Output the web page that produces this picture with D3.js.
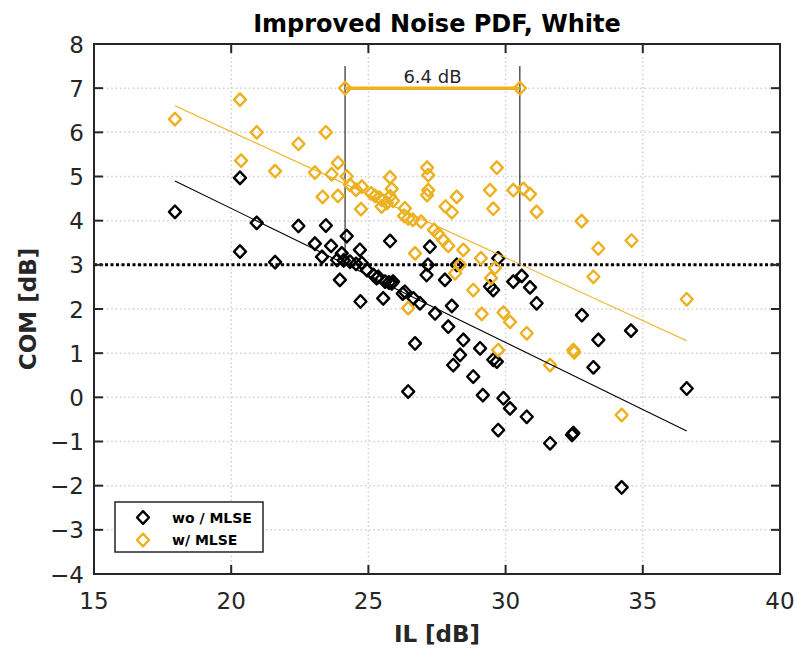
<!DOCTYPE html>
<html><head><meta charset="utf-8">
<script src="https://cdn.jsdelivr.net/npm/d3@7"></script>
<style>body{margin:0;background:#fff}svg{display:block}text{font-family:"DejaVu Sans",sans-serif}</style>
</head><body><svg id="c" width="797" height="650"></svg>
<script>
const xTicks=[15,20,25,30,35,40];
const yTicks=[-4,-3,-2,-1,0,1,2,3,4,5,6,7,8];
const seriesNames=["wo / MLSE","w/ MLSE"];
const ilWo=[17.95,20.32,20.32,20.93,21.60,22.45,23.45,23.05,23.64,23.31,23.86,23.96,24.21,24.03,24.69,24.33,24.76,25.18,25.36,25.61,25.85,24.71,25.54,25.79,26.33,26.64,26.88,27.24,27.17,27.12,27.43,26.70,26.45,27.91,28.04,28.22,27.79,28.46,28.34,28.09,29.07,28.82,29.55,29.68,29.73,29.43,29.55,30.28,30.59,30.89,31.13,29.17,29.92,30.16,29.73,30.77,31.62,32.47,32.42,32.78,33.38,34.57,33.20,36.60,34.23,24.55,24.95,25.30,25.75,25.90,26.25,24.10];
const comWo=[4.20,4.97,3.30,3.95,3.06,3.88,3.89,3.48,3.43,3.18,3.11,2.66,3.65,3.26,3.34,3.07,3.04,2.77,2.73,2.62,2.58,2.17,2.24,3.54,2.39,2.24,2.13,3.41,3.00,2.77,1.90,1.22,0.13,1.60,2.07,3.00,2.66,1.30,0.96,0.73,1.11,0.47,0.85,0.81,3.15,2.51,2.43,2.62,2.75,2.49,2.13,0.05,-0.02,-0.25,-0.74,-0.44,-1.04,-0.81,-0.85,1.86,1.30,1.51,0.68,0.20,-2.04,3.02,2.88,2.70,2.60,2.62,2.35,3.10];
const ilW=[17.95,20.32,20.36,20.93,21.60,22.45,23.05,23.45,23.66,23.33,23.89,23.89,24.21,24.33,24.76,24.73,25.24,25.48,25.79,25.85,25.67,25.48,25.79,26.33,26.30,26.62,26.92,27.14,27.18,27.18,27.14,27.39,27.54,27.73,27.91,27.81,28.22,28.04,26.70,28.46,29.10,28.34,28.16,29.61,29.47,28.82,29.13,29.92,30.16,30.77,29.73,32.47,32.50,31.62,26.45,29.43,29.55,29.68,30.28,30.65,30.89,31.13,32.77,33.38,34.59,33.20,36.60,34.23,25.10,25.40,25.90,24.55,26.45];
const comW=[6.30,6.74,5.36,6.00,5.12,5.74,5.09,6.00,5.05,4.54,5.31,4.56,5.00,4.81,4.77,4.26,4.56,4.47,4.98,4.72,4.40,4.32,4.55,4.28,4.11,4.02,3.98,5.20,5.03,4.69,4.58,3.79,3.70,3.56,3.43,4.32,4.54,4.19,3.26,3.34,3.15,3.00,2.81,2.93,2.70,2.43,1.89,1.92,1.71,1.45,1.07,1.07,1.02,0.73,2.02,4.69,4.27,5.20,4.69,4.72,4.60,4.20,3.99,3.37,3.55,2.73,2.22,-0.40,4.62,4.52,4.45,4.70,4.05];
const fitX=[17.95,36.6];
const fitWo=[4.90,-0.76];
const fitW=[6.60,1.28];
const annX=[24.15,30.52];
const annY=7, annTop=7.5, annBottom=3, annLabel="6.4 dB";
const thresholdY=3;

const W=797,H=650,m={l:94,r:17,t:44,b:76};
const svg=d3.select("#c");
const x=d3.scaleLinear().domain([15,40]).range([m.l,W-m.r]);
const y=d3.scaleLinear().domain([-4,8]).range([H-m.b,m.t]);
const axCol="#262626", orange="#EDB120";

// grid
const g=svg.append("g");
g.selectAll(".gx").data(xTicks.slice(1,-1)).join("line").attr("x1",d=>x(d)).attr("x2",d=>x(d)).attr("y1",m.t).attr("y2",H-m.b)
 .attr("stroke","#cfcfcf").attr("stroke-width",1.5).attr("stroke-dasharray","1.5,2.8");
g.selectAll(".gy").data(yTicks.slice(1,-1)).join("line").attr("y1",d=>y(d)).attr("y2",d=>y(d)).attr("x1",m.l).attr("x2",W-m.r)
 .attr("stroke","#cfcfcf").attr("stroke-width",1.5).attr("stroke-dasharray","1.5,2.8");

// threshold line
svg.append("line").attr("x1",m.l).attr("x2",W-m.r).attr("y1",y(thresholdY)).attr("y2",y(thresholdY))
 .attr("stroke","#000").attr("stroke-width",3).attr("stroke-dasharray","3,2.5");

// annotation verticals
svg.selectAll(".av").data(annX).join("line").attr("x1",d=>x(d)).attr("x2",d=>x(d)).attr("y1",y(annTop)).attr("y2",y(annBottom))
 .attr("stroke","#000").attr("stroke-width",1);

const diamond=(s)=>`M0,${-s}L${s*0.95},0L0,${s}L${-s*0.95},0Z`;
const MS=6.3, MW=2.4;

function drawPts(xs,ys,col){
  svg.append("g").selectAll("path").data(xs.map((v,i)=>[v,ys[i]])).join("path")
   .attr("d",diamond(MS)).attr("transform",d=>`translate(${x(d[0])},${y(d[1])})`)
   .attr("fill","none").attr("stroke",col).attr("stroke-width",MW).attr("stroke-linejoin","round");
}
drawPts(ilWo,comWo,"#000");
drawPts(ilW,comW,orange);

// fit lines
const line=d3.line().x(d=>x(d[0])).y(d=>y(d[1]));
svg.append("path").attr("d",line(fitX.map((v,i)=>[v,fitW[i]]))).attr("stroke",orange).attr("stroke-width",1.1).attr("fill","none");
svg.append("path").attr("d",line(fitX.map((v,i)=>[v,fitWo[i]]))).attr("stroke","#000").attr("stroke-width",1.1).attr("fill","none");

// annotation horizontal
svg.append("line").attr("x1",x(annX[0])).attr("x2",x(annX[1])).attr("y1",y(annY)).attr("y2",y(annY)).attr("stroke",orange).attr("stroke-width",3.5);
svg.selectAll(".am").data(annX).join("path").attr("d",diamond(MS)).attr("transform",d=>`translate(${x(d)},${y(annY)})`)
 .attr("fill","none").attr("stroke",orange).attr("stroke-width",MW).attr("stroke-linejoin","round");
svg.append("text").attr("x",(x(annX[0])+x(annX[1]))/2).attr("y",y(annY)-5).attr("text-anchor","middle")
 .attr("font-size",18).attr("fill","#262626").text(annLabel);

// axes box
const ax=svg.append("g").attr("stroke",axCol).attr("stroke-width",2).attr("fill","none");
ax.append("rect").attr("x",m.l).attr("y",m.t).attr("width",W-m.l-m.r).attr("height",H-m.t-m.b);
const tl=9;
xTicks.forEach(t=>{
  ax.append("line").attr("x1",x(t)).attr("x2",x(t)).attr("y1",H-m.b).attr("y2",H-m.b-tl);
  ax.append("line").attr("x1",x(t)).attr("x2",x(t)).attr("y1",m.t).attr("y2",m.t+tl);
});
yTicks.forEach(t=>{
  ax.append("line").attr("y1",y(t)).attr("y2",y(t)).attr("x1",m.l).attr("x2",m.l+tl);
  ax.append("line").attr("y1",y(t)).attr("y2",y(t)).attr("x1",W-m.r).attr("x2",W-m.r-tl);
});
svg.append("g").selectAll("text").data(xTicks).join("text").attr("x",d=>x(d)).attr("y",H-m.b+35)
 .attr("text-anchor","middle").attr("font-size",23).attr("fill",axCol).text(d=>d);
svg.append("g").selectAll("text").data(yTicks).join("text").attr("x",m.l-10).attr("y",d=>y(d)+8.5)
 .attr("text-anchor","end").attr("font-size",23).attr("fill",axCol).text(d=>d<0?"\u2212"+Math.abs(d):d);

// labels
svg.append("text").attr("x",(m.l+W-m.r)/2).attr("y",32).attr("text-anchor","middle").attr("font-size",24).attr("font-weight","bold").attr("fill","#000").text("Improved Noise PDF, White");
svg.append("text").attr("x",(m.l+W-m.r)/2).attr("y",642).attr("text-anchor","middle").attr("font-size",23).attr("font-weight","bold").attr("fill",axCol).text("IL [dB]");
svg.append("text").attr("transform",`translate(36,${(m.t+H-m.b)/2}) rotate(-90)`).attr("text-anchor","middle").attr("font-size",23).attr("font-weight","bold").attr("fill",axCol).text("COM [dB]");

// legend
const lg=svg.append("g");
lg.append("rect").attr("x",115).attr("y",502).attr("width",148).attr("height",50).attr("fill","#fff").attr("stroke",axCol).attr("stroke-width",1.5);
[["#000",517.5],[orange,540]].forEach((c,i)=>{
  lg.append("path").attr("d",diamond(MS)).attr("transform",`translate(143,${c[1]})`).attr("fill","none").attr("stroke",c[0]).attr("stroke-width",MW).attr("stroke-linejoin","round");
  lg.append("text").attr("x",172).attr("y",c[1]+5).attr("font-size",14).attr("font-weight","bold").attr("fill","#000").text(seriesNames[i]);
});
</script></body></html>
